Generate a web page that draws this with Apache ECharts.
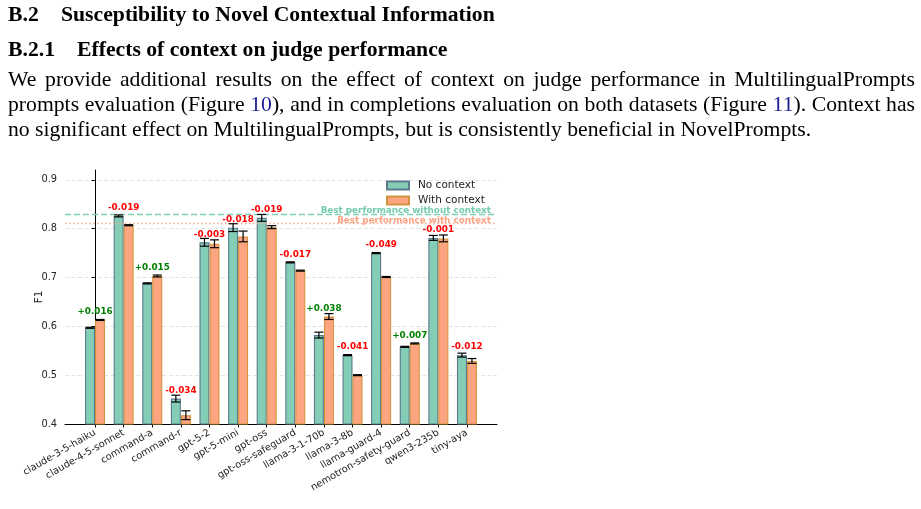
<!DOCTYPE html>
<html>
<head>
<meta charset="utf-8">
<script src="https://cdn.jsdelivr.net/npm/echarts@6/dist/echarts.min.js"></script>
<style>
  html, body { margin: 0; padding: 0; background: #fff; }
  #page { position: relative; width: 921px; height: 509px; overflow: hidden; }
  #main { position: absolute; left: 0; top: 0; width: 921px; height: 509px; }
  .tx { position: absolute; font-family: 'Liberation Serif', 'Times New Roman', serif; font-size: 21.7px; line-height: 25px; color: #000; white-space: nowrap; }
  .hd { font-weight: bold; }
  .just { width: 907px; text-align: justify; text-align-last: justify; white-space: normal; }
  .ref { color: #1c1c94; }
</style>
</head>
<body>
<div id="page">
  <div id="main"></div>
  <div class="tx hd" style="left:8px; top:2.2px;">B.2</div>
  <div class="tx hd" style="left:61px; top:2.2px;">Susceptibility to Novel Contextual Information</div>
  <div class="tx hd" style="left:8px; top:37.2px;">B.2.1</div>
  <div class="tx hd" style="left:77px; top:37.2px;">Effects of context on judge performance</div>
  <div class="tx just" style="left:8px; top:66.9px;">We provide additional results on the effect of context on judge performance in MultilingualPrompts</div>
  <div class="tx just" style="left:8px; top:91.9px;">prompts evaluation (Figure <span class="ref">10</span>), and in completions evaluation on both datasets (Figure <span class="ref">11</span>). Context has</div>
  <div class="tx" style="left:8px; top:116.9px;">no significant effect on MultilingualPrompts, but is consistently beneficial in NovelPrompts.</div>
</div>
<script>
// judge models on the x axis
const models = ['claude-3-5-haiku', 'claude-4-5-sonnet', 'command-a', 'command-r', 'gpt-5-2', 'gpt-5-mini',
  'gpt-oss', 'gpt-oss-safeguard', 'llama-3-1-70b', 'llama-3-8b', 'llama-guard-4', 'nemotron-safety-guard',
  'qwen3-235b', 'tiny-aya']
// F1 without / with context
const noCtx = [0.597, 0.826, 0.688, 0.452, 0.772, 0.802, 0.822, 0.731, 0.582, 0.541, 0.750, 0.558, 0.781, 0.541]
const withCtx = [0.613, 0.807, 0.703, 0.418, 0.769, 0.784, 0.803, 0.714, 0.620, 0.500, 0.701, 0.565, 0.780, 0.529]
// error bar half widths
const noErr = [0.001, 0.002, 0.001, 0.007, 0.008, 0.008, 0.007, 0.001, 0.006, 0.001, 0.001, 0.001, 0.005, 0.004]
const withErr = [0.001, 0.001, 0.002, 0.009, 0.008, 0.011, 0.003, 0.001, 0.006, 0.001, 0.001, 0.001, 0.007, 0.005]
// printed change (with - without)
const deltas = [0.016, -0.019, 0.015, -0.034, -0.003, -0.018, -0.019, -0.017, 0.038, -0.041, -0.049, 0.007, -0.001, -0.012]
const yTicks = [0.4, 0.5, 0.6, 0.7, 0.8, 0.9]

const FONT = 'DejaVu Sans'
const off = 0.175  // half of bar width in category units
const idx = models.map((m, i) => i)

var myChart = echarts.init(document.getElementById('main'))

const errSeries = (vals, errs, shift) => ({
  type: 'custom',
  silent: true,
  z: 5,
  data: idx.map(i => [i + shift, vals[i] - errs[i], vals[i] + errs[i]]),
  renderItem: (params, api) => {
    const lo = api.coord([api.value(0), api.value(1)])
    const hi = api.coord([api.value(0), api.value(2)])
    const cap = 4.5
    const st = { stroke: '#000', lineWidth: 1.2 }
    return {
      type: 'group',
      children: [
        { type: 'line', shape: { x1: lo[0], y1: lo[1], x2: hi[0], y2: hi[1] }, style: st },
        { type: 'line', shape: { x1: lo[0] - cap, y1: lo[1], x2: lo[0] + cap, y2: lo[1] }, style: st },
        { type: 'line', shape: { x1: hi[0] - cap, y1: hi[1], x2: hi[0] + cap, y2: hi[1] }, style: st }
      ]
    }
  }
})

myChart.setOption({
  animation: false,
  textStyle: { fontFamily: FONT },
  grid: { left: 65, right: 424, top: 170, bottom: 85 },
  legend: {
    orient: 'vertical',
    left: 381,
    top: 175,
    itemWidth: 22,
    itemHeight: 8,
    itemGap: 4,
    icon: 'rect',
    textStyle: { fontSize: 10.5, color: '#222', padding: [0, 0, 0, 4] },
    data: ['No context', 'With context']
  },
  xAxis: {
    type: 'value',
    min: -1.05,
    max: 14.05,
    splitLine: { show: false },
    axisLine: { show: true, onZero: false, lineStyle: { color: '#000', width: 1 } },
    axisTick: { show: true, customValues: idx, length: 3.5, lineStyle: { color: '#000' } },
    axisLabel: {
      customValues: idx,
      rotate: 30,
      margin: 8,
      fontSize: 9.8,
      color: '#222',
      formatter: v => models[Math.round(v)]
    }
  },
  yAxis: {
    type: 'value',
    min: 0.4,
    max: 0.92,
    name: 'F1',
    nameLocation: 'middle',
    nameGap: 20,
    nameMoveOverlap: false,
    nameTextStyle: { fontSize: 10.5, color: '#222' },
    axisLine: { show: true, lineStyle: { color: '#000', width: 1 } },
    axisTick: { show: true, customValues: yTicks, length: 3.5, lineStyle: { color: '#000' } },
    axisLabel: { customValues: yTicks, margin: 8, fontSize: 9.8, color: '#222', formatter: v => v.toFixed(1) },
    splitLine: { show: true, lineStyle: { color: '#dcdcdc', width: 0.8, type: [4, 2.5] } }
  },
  series: [
    {
      name: 'No context',
      type: 'bar',
      barWidth: 10,
      barGap: '-100%',
      itemStyle: { color: '#84ceb7', borderColor: '#5c7a8e', borderWidth: 1.1 },
      data: idx.map(i => [i - off, noCtx[i]]),
      markLine: {
        silent: true,
        symbol: 'none',
        lineStyle: { color: '#7fd0b6', width: 1.3, type: [6, 3] },
        label: {
          position: 'insideEndTop',
          distance: [6, -1.5],
          formatter: 'Best performance without context',
          color: '#74cbae',
          fontWeight: 'bold',
          fontSize: 8.8
        },
        data: [{ yAxis: Math.max(...noCtx) }]
      }
    },
    {
      name: 'With context',
      type: 'bar',
      barWidth: 10,
      barGap: '-100%',
      itemStyle: { color: '#fda481', borderColor: '#d4963c', borderWidth: 1.1 },
      data: idx.map(i => [i + off, withCtx[i]]),
      markLine: {
        silent: true,
        symbol: 'none',
        lineStyle: { color: '#fba98a', width: 1.3, type: [1.5, 2.5] },
        label: {
          position: 'insideEndTop',
          distance: [6, -1.5],
          formatter: 'Best performance with context',
          color: '#fba283',
          fontWeight: 'bold',
          fontSize: 8.8
        },
        data: [{ yAxis: Math.max(...withCtx) }]
      }
    },
    errSeries(noCtx, noErr, -off),
    errSeries(withCtx, withErr, off),
    {
      type: 'custom',
      silent: true,
      z: 6,
      data: idx.map(i => [i, Math.max(noCtx[i], withCtx[i]) + 0.007, deltas[i]]),
      renderItem: (params, api) => {
        const p = api.coord([api.value(0), api.value(1)])
        const d = api.value(2)
        return {
          type: 'text',
          x: p[0],
          y: p[1],
          style: {
            text: (d >= 0 ? '+' : '') + d.toFixed(3),
            fill: d >= 0 ? '#008000' : '#ff0000',
            font: 'bold 8.8px "DejaVu Sans"',
            align: 'center',
            verticalAlign: 'bottom'
          }
        }
      }
    }
  ]
})
</script>
</body>
</html>
